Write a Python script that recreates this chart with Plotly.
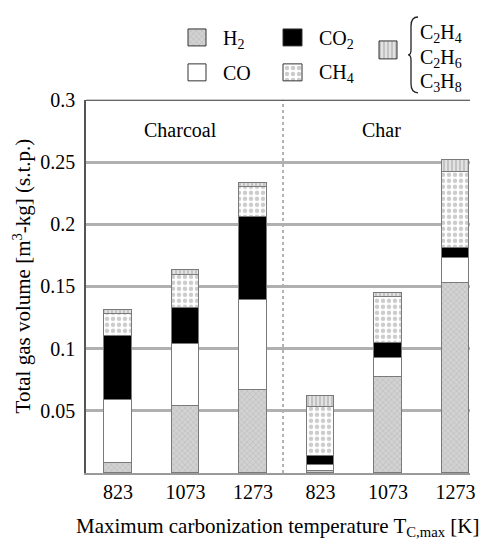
import plotly.graph_objects as go

# ---------------- data ----------------
temps = ["823", "1073", "1273", "823", "1073", "1273"]
groups = ["Charcoal", "Char"]
h2 = [0.008, 0.054, 0.067, 0.002, 0.077, 0.153]
co = [0.051, 0.050, 0.072, 0.0045, 0.016, 0.020]
co2 = [0.051, 0.029, 0.067, 0.007, 0.012, 0.008]
ch4 = [0.018, 0.026, 0.024, 0.0395, 0.037, 0.061]
c2c3 = [0.003, 0.004, 0.003, 0.009, 0.003, 0.010]
y_ticks = [0.05, 0.1, 0.15, 0.2, 0.25, 0.3]
y_ticklabels = ["0.05", "0.1", "0.15", "0.2", "0.25", "0.3"]

# ---------------- layout helpers ----------------
W, H = 488, 542
ML, MR, MT, MB = 86, 18, 0, 69
TOP_EFF = 10  # plotly reserves ~10px at the top of the figure
PW = W - ML - MR
PH = H - MB - TOP_EFF
FONT = "Liberation Serif, Times New Roman, Times, serif"


def px(x):
    return (x - ML) / PW


def py(y):
    return (H - MB - y) / PH


main_top = py(99)

styles = {
    "H2": dict(bg="#cfcfcf", pattern=dict(shape="x", fgcolor="#9c9c9c", bgcolor="#d2d2d2", size=4, solidity=0.25)),
    "CO": dict(bg="white", pattern=None),
    "CO2": dict(bg="black", pattern=None),
    "CH4": dict(bg="white", pattern=dict(shape=".", fgcolor="#9a9a9a", bgcolor="white", size=6, solidity=0.45)),
    "C2": dict(bg="#e0e0e0", pattern=dict(shape="|", fgcolor="#8a8a8a", bgcolor="#e2e2e2", size=4, solidity=0.35)),
}
series = [("H2", h2), ("CO", co), ("CO2", co2), ("CH4", ch4), ("C2", c2c3)]

xs = list(range(len(temps)))
fig = go.Figure()
for key, vals in series:
    st = styles[key]
    marker = dict(color=st["bg"], line=dict(color="#7a7a7a", width=1))
    if st["pattern"]:
        marker["pattern"] = st["pattern"]
    fig.add_trace(go.Bar(x=xs, y=vals, width=0.41, marker=marker, name=key,
                         showlegend=False, hoverinfo="skip"))

# ---------------- manual legend (swatches on a hidden overlay axis in pixel units) ----------------
swatches = {
    "H2": (188, 206, 28, 45),
    "CO": (188, 206, 63, 80),
    "CO2": (283, 302, 28, 45),
    "CH4": (283, 302, 63, 80),
    "C2": (379, 397, 40, 58),
}
for key, (x0, x1, y0, y1) in swatches.items():
    st = styles[key]
    kw = dict(x=[x0, x1, x1, x0, x0], y=[y0, y0, y1, y1, y0], mode="lines",
              fill="toself", fillcolor=st["bg"], line=dict(color="#333333", width=1),
              xaxis="x2", yaxis="y2", showlegend=False, hoverinfo="skip")
    if st["pattern"]:
        kw["fillpattern"] = st["pattern"]
    fig.add_trace(go.Scatter(**kw))

annotations = []
legend_labels = [
    ("H<sub>2</sub>", 221, 39),
    ("CO", 221, 72),
    ("CO<sub>2</sub>", 317, 39),
    ("CH<sub>4</sub>", 317, 73),
    ("C<sub>2</sub>H<sub>4</sub>", 418, 33),
    ("C<sub>2</sub>H<sub>6</sub>", 418, 58),
    ("C<sub>3</sub>H<sub>8</sub>", 418, 82),
]
for txt, x, y in legend_labels:
    annotations.append(dict(text=txt, x=px(x), y=py(y), xref="paper", yref="paper",
                            xanchor="left", yanchor="middle", showarrow=False,
                            font=dict(family=FONT, size=20, color="black")))

# brace
bx, bt, bb, bm = 411, 16, 92, 54
pts = [
    f"M{px(bx+7)},{py(bt)}",
    f"Q{px(bx)},{py(bt)} {px(bx)},{py(bt+9)}",
    f"L{px(bx)},{py(bm-5)}",
    f"Q{px(bx)},{py(bm)} {px(bx-3)},{py(bm)}",
    f"Q{px(bx)},{py(bm)} {px(bx)},{py(bm+5)}",
    f"L{px(bx)},{py(bb-9)}",
    f"Q{px(bx)},{py(bb)} {px(bx+7)},{py(bb)}",
]
shapes = [
    dict(type="path", path=" ".join(pts), xref="paper", yref="paper",
         line=dict(color="#222222", width=1.3)),
    # divider between groups
    dict(type="line", xref="x", yref="y", x0=2.445, x1=2.445, y0=0, y1=0.3,
         line=dict(color="#666666", width=1, dash="dot"), layer="below"),
    # top frame line
    dict(type="line", xref="paper", yref="y", x0=0, x1=1, y0=0.3, y1=0.3,
         line=dict(color="#333333", width=2)),
]

# group labels
for name, gx in zip(groups, [0.92, 3.91]):
    annotations.append(dict(text=name, x=gx, y=0.276, xref="x", yref="y",
                            xanchor="center", yanchor="middle", showarrow=False,
                            font=dict(family=FONT, size=20, color="black")))

# axis titles
annotations.append(dict(text="Total gas volume [m<sup>3</sup>-kg] (s.t.p.)", x=px(22), y=py(276),
                        xref="paper", yref="paper", textangle=-90, showarrow=False,
                        xanchor="center", yanchor="middle",
                        font=dict(family=FONT, size=21, color="black")))
annotations.append(dict(text="Maximum carbonization temperature T<sub>C,max</sub> [K]",
                        x=px(277), y=py(542), xref="paper", yref="paper", showarrow=False,
                        xanchor="center", yanchor="bottom",
                        font=dict(family=FONT, size=21, color="black")))

fig.update_layout(
    width=W, height=H,
    margin=dict(l=ML, r=MR, t=MT, b=MB, pad=0),
    paper_bgcolor="white", plot_bgcolor="white",
    barmode="stack", bargap=0,
    font=dict(family=FONT, size=20, color="black"),
    xaxis=dict(domain=[0, 1], range=[-0.474, 5.215], tickmode="array", tickvals=xs,
               ticktext=temps, showgrid=False, zeroline=False, showline=True,
               linecolor="#9a9a9a", linewidth=1.5, ticks="", ticklabelstandoff=0,
               tickfont=dict(family=FONT, size=20, color="black"),
               anchor="y"),
    yaxis=dict(domain=[0, main_top], range=[0, 0.3], tickmode="array", tickvals=y_ticks,
               ticktext=y_ticklabels, showgrid=True, gridcolor="#b0b0b0", gridwidth=2.5,
               zeroline=False, showline=True, linecolor="#555555", linewidth=1.5,
               ticks="", ticklabelstandoff=5, tickfont=dict(family=FONT, size=20, color="black"),
               anchor="x"),
    xaxis2=dict(domain=[0, 1], range=[ML, W - MR], visible=False, anchor="y2", fixedrange=True),
    yaxis2=dict(domain=[py(95), 1], range=[95, TOP_EFF], visible=False, anchor="x2", fixedrange=True),
    shapes=shapes,
    annotations=annotations,
)

fig.write_html("out.html")
